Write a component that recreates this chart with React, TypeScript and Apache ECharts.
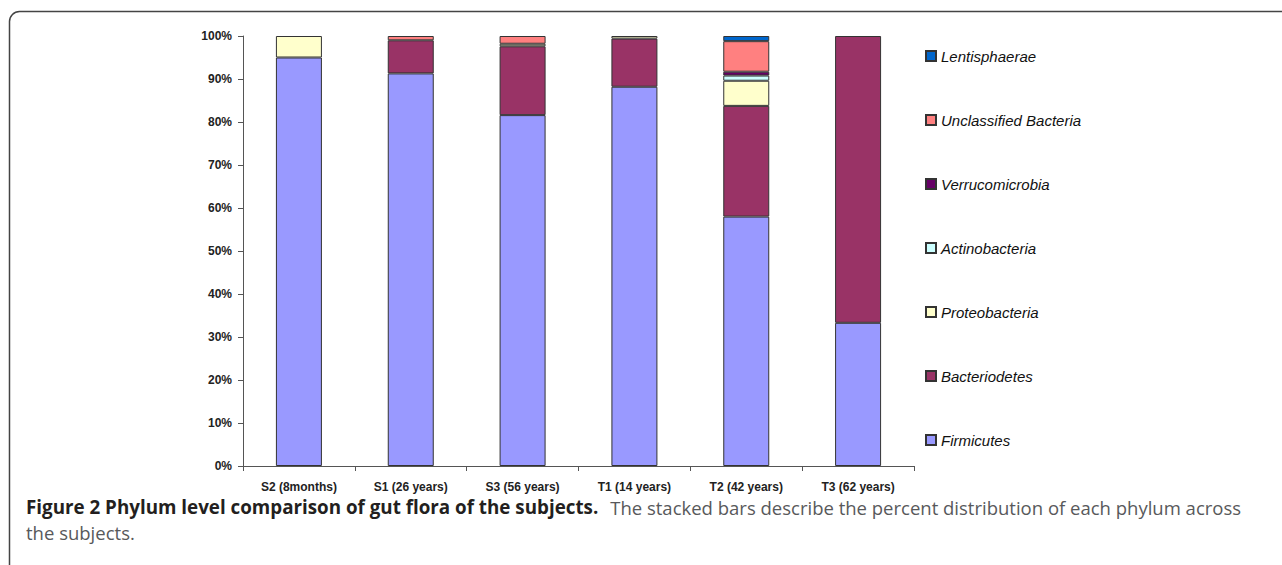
import React, { useEffect, useRef } from "react";
import * as echarts from "echarts";

const categories = ["S2 (8months)", "S1 (26 years)", "S3 (56 years)", "T1 (14 years)", "T2 (42 years)", "T3 (62 years)"];
const firmicutes = [95.0, 91.3, 81.6, 88.2, 58.0, 33.3];
const bacteriodetes = [0, 7.7, 16.0, 11.2, 25.75, 66.7];
const proteobacteria = [5.0, 0, 0.6, 0.6, 5.85, 0];
const actinobacteria = [0, 0, 0, 0, 1.2, 0];
const verrucomicrobia = [0, 0, 0, 0, 0.9, 0];
const unclassified = [0, 1.0, 1.8, 0, 7.1, 0];
const lentisphaerae = [0, 0, 0, 0, 1.2, 0];
const yTicks = [0, 10, 20, 30, 40, 50, 60, 70, 80, 90, 100];

const seriesDefs = [
  { name: "Firmicutes", data: firmicutes, color: "#9999FF" },
  { name: "Bacteriodetes", data: bacteriodetes, color: "#993366" },
  { name: "Proteobacteria", data: proteobacteria, color: "#FFFFCC" },
  { name: "Actinobacteria", data: actinobacteria, color: "#CCFFFF" },
  { name: "Verrucomicrobia", data: verrucomicrobia, color: "#660066" },
  { name: "Unclassified Bacteria", data: unclassified, color: "#FF8080" },
  { name: "Lentisphaerae", data: lentisphaerae, color: "#0066CC" },
];

const captionBold = "Figure 2 Phylum level comparison of gut flora of the subjects.";
const captionLine1 = "The stacked bars describe the percent distribution of each phylum across";
const captionLine2 = "the subjects.";

export default function App() {
  const ref = useRef<HTMLDivElement>(null);
  useEffect(() => {
    if (!ref.current) return;
    const chart = echarts.init(ref.current, undefined, { renderer: "svg" });
    const axisFont = "'Liberation Sans', Arial, sans-serif";
    const capFont = "'Open Sans', Lato, sans-serif";
    chart.setOption({
      animation: false,
      backgroundColor: "#ffffff",
      grid: { left: 243, right: 368, top: 36, bottom: 99 },
      legend: {
        orient: "vertical",
        left: 920,
        top: 43,
        itemWidth: 10,
        itemHeight: 10,
        itemGap: 48,
        icon: "rect",
        selectedMode: false,
        data: seriesDefs.map((s) => s.name).reverse(),
        textStyle: {
          fontSize: 15,
          fontStyle: "italic",
          fontFamily: axisFont,
          color: "#111",
          lineHeight: 16,
        },
      },
      xAxis: {
        type: "category",
        data: categories,
        axisLine: { lineStyle: { color: "#555", width: 1 } },
        axisTick: { show: true, length: 5, lineStyle: { color: "#555" } },
        axisLabel: {
          fontSize: 12,
          fontWeight: "bold",
          fontFamily: axisFont,
          color: "#222",
          margin: 15,
        },
      },
      yAxis: {
        type: "value",
        min: yTicks[0],
        max: yTicks[yTicks.length - 1],
        interval: 10,
        splitLine: { show: false },
        axisLine: { show: true, lineStyle: { color: "#555", width: 1 } },
        axisTick: { show: true, length: 5, lineStyle: { color: "#555" } },
        axisLabel: {
          formatter: "{value}%",
          fontSize: 12,
          fontWeight: "bold",
          fontFamily: axisFont,
          color: "#222",
          margin: 11,
        },
      },
      series: seriesDefs.map((s) => ({
        name: s.name,
        type: "bar",
        stack: "total",
        barWidth: 46,
        data: s.data.map((v) => (v === 0 ? "-" : v)),
        itemStyle: { color: s.color, borderColor: "#333", borderWidth: 1 },
      })),
      graphic: [
        {
          type: "rect",
          silent: true,
          shape: { x: 9.5, y: 11.5, width: 1500, height: 800, r: 10 },
          style: { fill: "none", stroke: "#444", lineWidth: 1.5 },
        },
        {
          type: "text",
          x: 26,
          y: 507,
          style: {
            text: `{b|${captionBold}}{s| }{n|${captionLine1}}`,
            verticalAlign: "middle",
            rich: {
              b: { fontFamily: capFont, fontSize: 18.8, fontWeight: "bold", fill: "#231F20", color: "#231F20" },
              s: { fontFamily: capFont, fontSize: 18.5, width: 12 },
              n: { fontFamily: capFont, fontSize: 18.5, fill: "#58595B", color: "#58595B" },
            },
          },
        },
        {
          type: "text",
          x: 26,
          y: 532,
          style: {
            text: captionLine2,
            font: `18.5px ${capFont}`,
            fill: "#58595B",
            verticalAlign: "middle",
          },
        },
      ],
    });
    return () => chart.dispose();
  }, []);
  return (
    <div
      ref={ref}
      style={{ position: "absolute", left: 0, top: 0, width: 1282, height: 565 }}
    />
  );
}
